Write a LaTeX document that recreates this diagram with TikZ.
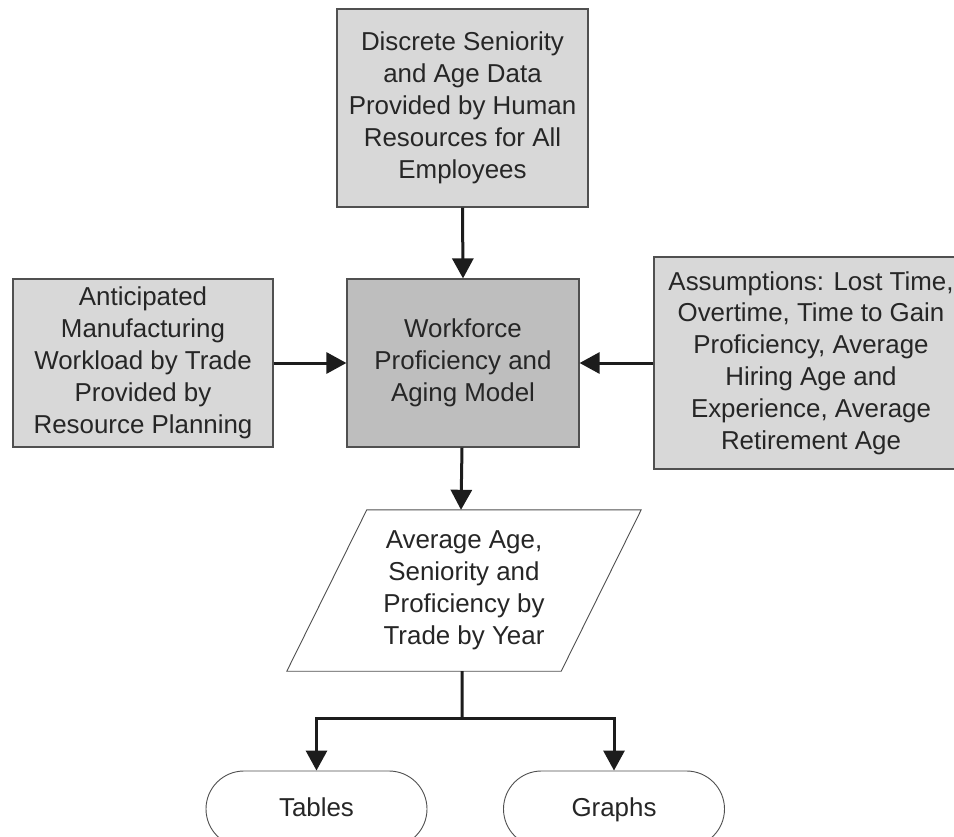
\documentclass[tikz,border=0pt]{standalone}
\usepackage{fontspec}
\setmainfont{Liberation Sans}
\usetikzlibrary{arrows.meta,shapes.misc}

\definecolor{inputfill}{HTML}{D8D8D8}
\definecolor{modelfill}{HTML}{BEBEBE}
\definecolor{edge}{HTML}{505050}
\definecolor{flow}{HTML}{1C1C1C}

\tikzset{
  boxtext/.style={font=\fontsize{26}{32}\selectfont, align=center, text=black!85},
  inputbox/.style={boxtext, draw=edge, line width=1.2bp, fill=inputfill,
                   rectangle, inner sep=0pt},
  modelbox/.style={inputbox, fill=modelfill},
  terminal/.style={boxtext, draw=edge, line width=0.9bp, fill=white,
                   rounded rectangle, inner sep=0pt,
                   text height=19bp, text depth=5bp,
                   minimum width=221bp, minimum height=76bp},
  flowline/.style={draw=flow, line width=3bp},
  flowarrow/.style={flowline, -{Triangle[length=20bp,width=21bp]}},
}

\begin{document}
\begin{tikzpicture}[x=1bp,y=-1bp]
  \useasboundingbox (0,0) rectangle (954,837);
  \clip (0,0) rectangle (954,837);
  \fill[white] (0,0) rectangle (954,837);

  % inputs and model
  \node[inputbox, minimum width=251bp, minimum height=198bp] (hr) at (462.5,108)
    {Discrete Seniority\\and Age Data\\Provided by Human\\Resources for All\\Employees};
  \node[modelbox, minimum width=232bp, minimum height=168bp] (model) at (463,363)
    {Workforce\\Proficiency and\\Aging Model};
  \node[inputbox, minimum width=260bp, minimum height=168bp] (load) at (143,363)
    {Anticipated\\Manufacturing\\Workload by Trade\\Provided by\\Resource Planning};
  \node[inputbox, minimum width=314bp, minimum height=212bp] (assume) at (811,363)
    {Assumptions: Lost Time,\\Overtime, Time to Gain\\Proficiency, Average\\Hiring Age and\\Experience, Average\\Retirement Age};

  % output data (parallelogram)
  \node[boxtext, minimum width=274bp, minimum height=161bp, inner sep=0pt] (out) at (464,590.5)
    {Average Age,\\Seniority and\\Proficiency by\\Trade by Year};
  \draw[edge, line width=0.9bp]
    ([xshift=40bp]out.north west) -- ([xshift=40bp]out.north east)
    -- ([xshift=-40bp]out.south east) -- ([xshift=-40bp]out.south west) -- cycle;

  % reports
  \node[terminal] (tables) at (316.5,809) {Tables};
  \node[terminal] (graphs) at (614,809) {Graphs};

  % connectors
  \draw[flowarrow] (hr.south) -- (model.north);
  \draw[flowarrow] (load.east) -- (model.west);
  \draw[flowarrow] (assume.west |- model.east) -- (model.east);
  \draw[flowarrow] ([xshift=-1bp]model.south) -- ([xshift=-3bp]out.north);

  \coordinate (split) at (462,718);
  \draw[flowline] ([xshift=-2bp]out.south) -- (split);
  \draw[flowarrow] (split) -| (tables.north);
  \draw[flowarrow] (split) -| (graphs.north);
\end{tikzpicture}
\end{document}
